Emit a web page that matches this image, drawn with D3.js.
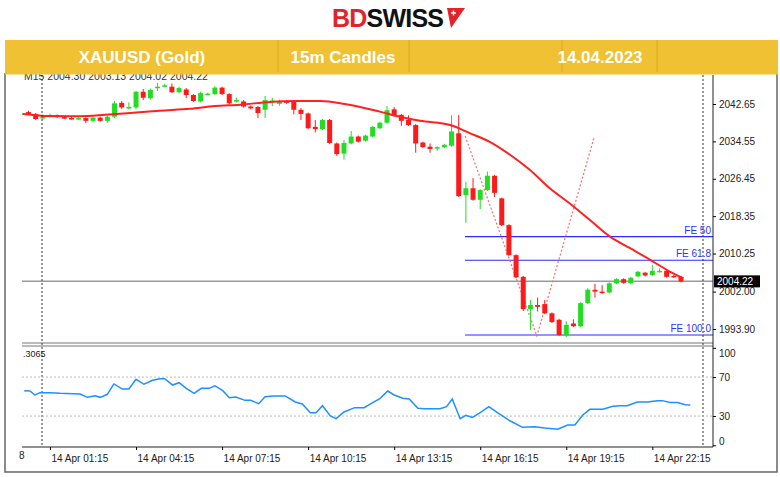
<!DOCTYPE html>
<html><head><meta charset="utf-8">
<script src="https://cdn.jsdelivr.net/npm/d3@7"></script>
<style>body{margin:0;background:#fff}svg{display:block}</style>
</head><body>
<svg width="780" height="477"></svg>
<script>
// 15m candles, index 1 = 00:15 ... [index, open, high, low, close]
var candles = [
  [1,2040.5,2041.0,2040.2,2040.6],[2,2040.9,2041.2,2040.3,2040.5],[3,2040.5,2040.7,2039.2,2039.4],
  [4,2039.5,2040.3,2039.3,2039.9],[5,2039.9,2040.6,2039.7,2040.2],[6,2040.2,2040.4,2039.6,2039.8],
  [7,2039.8,2040.0,2039.4,2039.6],[8,2039.6,2039.8,2039.3,2039.5],[9,2039.4,2039.9,2039.2,2039.6],
  [10,2039.6,2039.8,2038.5,2039.0],[11,2039.0,2039.9,2038.7,2039.7],[12,2039.7,2039.9,2038.8,2039.0],
  [13,2039.0,2040.1,2038.6,2039.9],[14,2039.9,2043.3,2039.6,2042.8],[15,2042.9,2043.3,2041.6,2041.9],
  [16,2041.8,2043.0,2041.6,2042.0],[17,2041.9,2045.5,2041.5,2045.3],[18,2045.3,2045.9,2043.5,2044.0],
  [19,2043.9,2046.0,2043.6,2045.7],[20,2046.1,2047.2,2045.5,2046.4],[21,2046.5,2047.0,2046.3,2046.7],
  [22,2046.4,2047.1,2045.0,2045.2],[23,2045.2,2046.4,2045.0,2046.1],[24,2045.8,2046.1,2043.9,2044.6],
  [25,2044.6,2044.8,2043.1,2043.3],[26,2043.2,2045.3,2043.0,2045.0],[27,2044.8,2045.1,2044.6,2044.9],
  [28,2044.8,2046.5,2044.6,2046.2],[29,2046.2,2046.4,2044.6,2044.8],[30,2044.8,2045.0,2042.6,2042.8],
  [31,2043.2,2044.0,2043.0,2043.5],[32,2043.2,2043.5,2041.9,2042.1],[33,2042.1,2042.3,2041.5,2041.7],
  [34,2042.0,2042.2,2039.6,2040.7],[35,2041.4,2044.4,2039.6,2043.5],[36,2043.1,2044.0,2042.2,2043.4],
  [37,2042.7,2043.6,2042.3,2043.2],[38,2043.3,2043.5,2042.7,2042.9],[39,2043.2,2043.4,2040.4,2041.4],
  [40,2041.4,2041.8,2039.2,2040.5],[41,2040.6,2040.8,2037.2,2037.4],[42,2037.7,2039.2,2036.5,2037.2],
  [43,2037.2,2039.4,2037.0,2039.2],[44,2039.2,2039.4,2034.0,2034.2],[45,2034.1,2034.3,2031.4,2031.8],
  [46,2031.9,2034.8,2030.6,2034.2],[47,2034.1,2036.8,2033.9,2035.6],[48,2035.6,2035.8,2034.3,2034.5],
  [49,2034.7,2036.0,2034.5,2035.8],[50,2035.6,2037.9,2035.4,2037.7],[51,2037.4,2038.8,2037.2,2038.6],
  [52,2038.6,2042.2,2038.4,2041.3],[53,2041.5,2042.0,2039.9,2040.1],[54,2040.3,2040.5,2037.9,2039.0],
  [55,2039.2,2040.2,2037.9,2038.1],[56,2038.1,2038.3,2032.1,2034.1],[57,2034.3,2034.5,2033.1,2033.3],
  [58,2033.4,2034.1,2032.1,2032.9],[59,2033.0,2033.5,2032.5,2033.3],[60,2033.3,2034.0,2033.1,2033.8],
  [61,2033.6,2040.2,2033.4,2036.7],[62,2036.3,2040.3,2022.5,2022.7],[63,2022.9,2025.8,2016.9,2024.4],
  [64,2024.4,2026.6,2021.7,2021.9],[65,2021.9,2024.2,2019.9,2024.0],[66,2024.0,2028.0,2023.8,2027.1],
  [67,2027.1,2027.3,2022.5,2023.4],[68,2022.2,2022.4,2016.2,2016.4],[69,2016.4,2016.6,2009.7,2009.9],
  [70,2009.9,2010.1,2004.9,2005.1],[71,2005.2,2005.4,1997.8,1998.2],[72,1998.2,2000.2,1993.7,1999.1],
  [73,1999.1,2000.7,1997.7,1998.7],[74,1999.3,2000.2,1997.1,1997.3],[75,1997.3,1997.5,1995.2,1995.4],
  [76,1995.9,1996.1,1992.4,1992.6],[77,1992.6,1995.6,1992.1,1994.8],[78,1995.1,1996.0,1994.3,1994.5],
  [79,1994.5,1999.7,1994.3,1999.5],[80,1999.5,2002.8,1999.3,2002.4],[81,2002.4,2003.7,2000.7,2002.0],
  [82,2002.0,2003.4,2001.5,2001.9],[83,2001.8,2004.0,2001.6,2003.8],[84,2003.8,2004.9,2003.6,2004.7],
  [85,2004.7,2004.9,2003.7,2003.9],[86,2003.8,2005.2,2003.6,2005.0],[87,2005.3,2006.5,2005.1,2006.3],
  [88,2006.1,2006.3,2005.3,2005.5],[89,2005.6,2007.8,2005.4,2006.5],[90,2006.4,2007.0,2006.2,2006.5],
  [91,2006.5,2006.7,2005.0,2005.2],[92,2005.4,2005.6,2005.0,2005.2],[93,2005.2,2005.4,2004.0,2004.2]
];
// moving average: [index, price]
var maLine = [
  [1.2,2040.5],[5,2040.05],[9.2,2040.0],[12.7,2040.3],[16.2,2040.7],[20.3,2041.2],[24.5,2041.6],
  [28,2042.2],[31.5,2042.5],[35.7,2043.1],[39.2,2043.3],[42.7,2043.3],[46.1,2042.65],[51,2041.0],
  [53.8,2039.9],[56.6,2039.0],[60.8,2038.1],[63.6,2036.3],[66.4,2034.4],[69.2,2031.6],[71.9,2028.4],
  [74.7,2024.4],[77.5,2021.1],[80.3,2017.5],[83.1,2013.9],[85.9,2011.4],[88.7,2008.9],[91.5,2006.3],
  [93.3,2004.9]
];
// RSI: [index, value]
var rsiLine = [
  [1.4,56.0],[2.2,55.7],[2.9,51.6],[3.6,54.0],[5,54.0],[6.4,53.3],[9.2,52.6],[10.2,49.2],[11.3,50.9],
  [12,49.2],[13,52.3],[13.9,62.9],[15.1,57.7],[16,57.7],[17,67.7],[18.1,62.6],[19.3,66.7],[20.3,68.3],
  [21,68.3],[22.1,61.8],[23,64.2],[24,58.4],[25.1,53.3],[26.1,58.4],[27.2,58.4],[28,61.1],[29.1,56.0],
  [30,48.8],[30.9,49.5],[32.2,46.1],[33,46.1],[34.1,42.7],[35,49.8],[36.2,50.6],[37.8,50.6],[39.2,44.4],
  [40.2,42.4],[41.3,33.4],[42.1,33.4],[43,40.6],[44.1,30.1],[44.9,27.3],[46,34.2],[47.5,38.6],[48.8,38.6],
  [50,43.8],[51,47.9],[52.1,55.7],[53,51.6],[54.2,48.2],[55.1,47.5],[56.3,37.9],[57.2,37.5],[59.4,37.5],
  [60.3,39.6],[61.1,47.5],[62.2,27.3],[63,30.7],[63.9,28.6],[65,33.4],[66.2,39.6],[67.4,33.4],[69.2,24.9],
  [70.9,18.4],[72.6,19.1],[74,17.7],[75.8,16.4],[77.2,20.8],[78.2,20.8],[79.3,31.1],[80.3,36.9],
  [82.1,36.9],[83.5,40.0],[84.5,40.6],[85.5,40.6],[86.9,44.4],[88.3,44.4],[89.7,45.8],[90.4,45.8],
  [91.5,43.8],[92.5,43.8],[93.6,41.7],[94.3,41.4]
];
var priceTicks = [2042.65, 2034.55, 2026.45, 2018.35, 2010.25, 2002.00, 1993.90];
var rsiTicks = [100, 70, 30, 0];
var rsiLevels = [70, 30];
var timeTicks = [5, 17, 29, 41, 53, 65, 77, 89];
var timeLabels = ['14 Apr 01:15','14 Apr 04:15','14 Apr 07:15','14 Apr 10:15','14 Apr 13:15','14 Apr 16:15','14 Apr 19:15','14 Apr 22:15'];
var fibo = [{label:'FE 50', price:2013.9},{label:'FE 61.8', price:2008.8},{label:'FE 100.0', price:1992.6}];
var fiboPath = [[62.9,2035.7],[72.9,1992.4],[80.9,2035.5]];
var lastPrice = 2004.22;

var svg = d3.select('svg');
var font = 'Liberation Sans, Arial, sans-serif';

// logo
var logo = svg.append('text').attr('x', 388).attr('y', 27).attr('text-anchor','middle')
  .style('font-family', font).style('font-weight','bold').style('font-size','25px').attr('textLength',112);
logo.append('tspan').attr('fill','#e3232a').text('BD');
logo.append('tspan').attr('fill','#111').text('SWISS');
svg.append('path').attr('d','M447,8 L465,8 L451,28 Z').attr('fill','#e3232a');
svg.append('path').attr('d','M451,13 h5 M453.5,10.5 v5').attr('stroke','#fff').attr('stroke-width',1.4);

// yellow header band
svg.append('rect').attr('x',5).attr('y',40).attr('width',773).attr('height',33).attr('fill','#f0c132');
[278, 409, 562, 657].forEach(function(x){
  svg.append('line').attr('x1',x).attr('x2',x).attr('y1',40).attr('y2',73).attr('stroke','#d9a820');
});
[['XAUUSD (Gold)',142],['15m Candles',343],['14.04.2023',600]].forEach(function(t){
  svg.append('text').attr('x',t[1]).attr('y',63).attr('text-anchor','middle').attr('fill','#fff')
    .style('font-family',font).style('font-weight','bold').style('font-size','17px').text(t[0]);
});

// outer frame
svg.append('path').attr('d','M5,73 V472 H777 V73').attr('fill','none').attr('stroke','#666').attr('stroke-width',1.5);

var x = d3.scaleLinear().domain([5, 93]).range([50, 681]);
var y = d3.scaleLinear().domain([1993.90, 2042.65]).range([329, 104]);
var yr = d3.scaleLinear().domain([0, 100]).range([445.3, 347.8]);

var g = svg.append('g');
svg.append('clipPath').attr('id','c').append('rect').attr('x',22).attr('y',74).attr('width',691).attr('height',268);
var main = g.append('g').attr('clip-path','url(#c)');

// fibo levels
fibo.forEach(function(f){
  main.append('line').attr('x1',465).attr('x2',713).attr('y1',y(f.price)).attr('y2',y(f.price))
    .attr('stroke','#2b2bff').attr('stroke-width',1.2);
  main.append('text').attr('x',711).attr('y',y(f.price)-3).attr('text-anchor','end').attr('fill','#3030ff')
    .style('font-family',font).style('font-size','10px').text(f.label);
});
main.append('path').datum(fiboPath)
  .attr('d', d3.line().x(function(d){return x(d[0]);}).y(function(d){return y(d[1]);}))
  .attr('fill','none').attr('stroke','#f07070').attr('stroke-width',1.2).attr('stroke-dasharray','2,2');

// last price line
main.append('line').attr('x1',22).attr('x2',713).attr('y1',y(lastPrice)).attr('y2',y(lastPrice))
  .attr('stroke','#999').attr('stroke-width',1.5);

// candles
var cg = main.selectAll('g.c').data(candles).enter().append('g');
cg.append('line')
  .attr('x1', function(d){return x(d[0]);}).attr('x2', function(d){return x(d[0]);})
  .attr('y1', function(d){return y(d[2]);}).attr('y2', function(d){return y(d[3]);})
  .attr('stroke', function(d){return d[4] >= d[1] ? '#22dd22' : '#ff1a1a';});
cg.append('rect')
  .attr('x', function(d){return x(d[0]) - 2.5;}).attr('width', 5)
  .attr('y', function(d){return y(Math.max(d[1], d[4]));})
  .attr('height', function(d){return Math.max(1.5, Math.abs(y(d[1]) - y(d[4])));})
  .attr('fill', function(d){return d[4] >= d[1] ? '#22dd22' : '#ff1a1a';});

// moving average
main.append('path').datum(maLine)
  .attr('d', d3.line().curve(d3.curveMonotoneX).x(function(d){return x(d[0]);}).y(function(d){return y(d[1]);}))
  .attr('fill','none').attr('stroke','#ff2020').attr('stroke-width',2);

// top-left text (top half hidden by the band)
svg.append('text').attr('x',24).attr('y',80).attr('fill','#333').style('font-family',font).style('font-size','10.5px')
  .text('M15  2004.30 2003.13 2004.02 2004.22');
svg.append('rect').attr('x',5).attr('y',72).attr('width',773).attr('height',2.5).attr('fill','#f0c132');

// panel separators and right axis
svg.append('line').attr('x1',22).attr('x2',713).attr('y1',343).attr('y2',343).attr('stroke','#777');
svg.append('line').attr('x1',22).attr('x2',713).attr('y1',346).attr('y2',346).attr('stroke','#777');
svg.append('line').attr('x1',713).attr('x2',713).attr('y1',75).attr('y2',447).attr('stroke','#222');
svg.append('line').attr('x1',22).attr('x2',713).attr('y1',447).attr('y2',447).attr('stroke','#222');

// price axis
var ay = d3.axisRight(y).tickValues(priceTicks).tickFormat(d3.format('.2f')).tickSize(3);
var axg = svg.append('g').attr('transform','translate(713,0)').call(ay);
axg.select('.domain').remove();
axg.selectAll('text').style('font-family',font).style('font-size','10px').attr('fill','#222');
var lp = svg.append('g');
lp.append('rect').attr('x',714).attr('y',y(lastPrice)-6).attr('width',46).attr('height',12).attr('fill','#000');
lp.append('text').attr('x',717).attr('y',y(lastPrice)+4).attr('fill','#fff').style('font-family',font).style('font-size','10px').text('2004.22');

// dotted session lines
[42, 703].forEach(function(xx){
  svg.append('line').attr('x1',xx).attr('x2',xx).attr('y1',75).attr('y2',447)
    .attr('stroke','#333').attr('stroke-dasharray','2,2');
});

// RSI panel
rsiLevels.forEach(function(v){
  svg.append('line').attr('x1',22).attr('x2',713).attr('y1',yr(v)).attr('y2',yr(v))
    .attr('stroke','#bbb').attr('stroke-dasharray','2,2');
});
svg.append('path').datum(rsiLine)
  .attr('d', d3.line().x(function(d){return x(d[0]);}).y(function(d){return yr(d[1]);}))
  .attr('fill','none').attr('stroke','#1e90ff').attr('stroke-width',1.5);
var ar = d3.axisRight(yr).tickValues(rsiTicks).tickSize(3);
var arg = svg.append('g').attr('transform','translate(713,0)').call(ar);
arg.select('.domain').remove();
arg.selectAll('.tick text').attr('dy', function(d){return d === 100 ? '0.9em' : d === 0 ? '-0.1em' : '0.32em';})
  .style('font-family',font).style('font-size','10px').attr('fill','#222');
svg.append('text').attr('x',23).attr('y',357).attr('fill','#222').style('font-family',font).style('font-size','9px').text('.3065');

// time axis
var ax = d3.axisBottom(x).tickValues(timeTicks).tickSize(3)
  .tickFormat(function(d, i){return timeLabels[i];});
var atg = svg.append('g').attr('transform','translate(0,447)').call(ax);
atg.select('.domain').remove();
atg.selectAll('.tick text').attr('text-anchor','start').attr('x',1).attr('dy','0.9em')
  .style('font-family',font).style('font-size','10px').attr('fill','#222');
svg.append('text').attr('x',19).attr('y',459).attr('fill','#222').style('font-family',font).style('font-size','10px').text('8');
</script>
</body></html>
